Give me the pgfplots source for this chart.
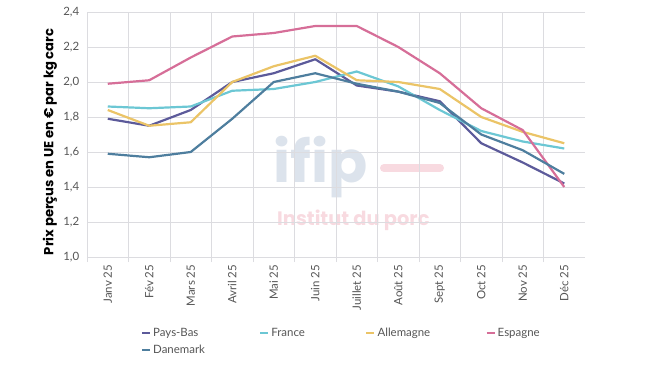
\documentclass[border=0pt]{standalone}
\usepackage{pgfplots}
\pgfplotsset{compat=1.18}
\usepackage{fontspec}
\setmainfont{Lato}
\newfontfamily\pop{Poppins}
\definecolor{cPB}{HTML}{5C5A9A}
\definecolor{cFR}{HTML}{6CC7D4}
\definecolor{cAL}{HTML}{EBC467}
\definecolor{cES}{HTML}{D66E98}
\definecolor{cDK}{HTML}{4E7E9E}
\definecolor{gridc}{HTML}{DCDCE0}
\definecolor{tickc}{HTML}{555555}
\definecolor{wmblue}{HTML}{DCE3EC}
\definecolor{wmpink}{HTML}{F8DAE0}
\begin{document}
\begin{tikzpicture}[x=1bp,y=1bp]
\path[use as bounding box] (0,0) rectangle (650,366);
% watermark
\node[anchor=base west, inner sep=0, font=\pop\bfseries\fontsize{58}{58}\selectfont, text=wmblue] at (273,184) {ifip};
\draw[line width=8bp, line cap=round, color=wmpink] (384,198) -- (440,198);
\node[anchor=base west, inner sep=0, font=\pop\bfseries\fontsize{19.5}{20}\selectfont, text=wmpink] at (277,141) {Institut du porc};
\begin{axis}[
  at={(87bp,109bp)}, anchor=south west,
  scale only axis, width=498bp, height=245bp,
  xmin=-0.5, xmax=11.5, ymin=1.0, ymax=2.4,
  xtick={0,...,11},
  xticklabels={Janv 25,Fév 25,Mars 25,Avril 25,Mai 25,Juin 25,Juillet 25,Août 25,Sept 25,Oct 25,Nov 25,Déc 25},
  minor xtick={-0.5,0.5,...,10.5},
  ytick={1.0,1.2,...,2.41},
  axis line style={draw=none},
  major x tick style={draw=none},
  minor x tick style={draw=gridc, line width=0.6bp},
  ytick style={draw=none},
  tickpos=left, tick align=outside, minor tick length=5bp,
  xmajorgrids=false, xminorgrids=true, ymajorgrids=true,
  grid style={draw=gridc, line width=0.6bp},
  minor grid style={draw=gridc, line width=0.6bp},
  x tick label style={rotate=90, anchor=east, font=\fontsize{11.5}{12}\selectfont, text=tickc},
  y tick label style={font=\fontsize{11.5}{12}\selectfont, text=tickc},
  /pgf/number format/.cd, use comma, fixed, fixed zerofill, precision=1, assume math mode=true,
  /pgfplots/.cd,
  ylabel={\pop\bfseries Prix perçus en UE en € par kg carc},
  ylabel style={font=\fontsize{13.2}{14}\selectfont, at={(axis description cs:0,0.47)}, anchor=center, yshift=37bp},
  legend columns=4,
  legend style={at={(axis description cs:0.108,-0.28)}, anchor=north west, draw=none, fill=none,
    font=\fontsize{11.5}{12}\selectfont, text=tickc, row sep=3bp, inner sep=0pt,
    /tikz/every even column/.append style={column sep=0pt}},
  legend cell align=left,
  legend image code/.code={\draw[#1, line width=2.2bp] (0bp,0bp) -- (8bp,0bp);},
  every axis plot/.append style={line width=2.2bp, line join=round},
]
\addplot[cPB] coordinates {(0,1.79)(1,1.75)(2,1.84)(3,2.00)(4,2.05)(5,2.13)(6,1.98)(7,1.945)(8,1.89)(9,1.65)(10,1.54)(11,1.42)};
\addlegendentry{\makebox[104bp][l]{Pays-Bas}}
\addplot[cFR] coordinates {(0,1.86)(1,1.85)(2,1.86)(3,1.95)(4,1.96)(5,2.00)(6,2.06)(7,1.975)(8,1.84)(9,1.72)(10,1.66)(11,1.62)};
\addlegendentry{\makebox[92bp][l]{France}}
\addplot[cAL] coordinates {(0,1.84)(1,1.75)(2,1.77)(3,2.00)(4,2.09)(5,2.15)(6,2.01)(7,2.00)(8,1.96)(9,1.80)(10,1.715)(11,1.65)};
\addlegendentry{\makebox[106bp][l]{Allemagne}}
\addplot[cES] coordinates {(0,1.99)(1,2.01)(2,2.14)(3,2.26)(4,2.28)(5,2.32)(6,2.32)(7,2.20)(8,2.05)(9,1.85)(10,1.725)(11,1.40)};
\addlegendentry{Espagne}
\addplot[cDK] coordinates {(0,1.59)(1,1.57)(2,1.60)(3,1.79)(4,2.00)(5,2.05)(6,1.99)(7,1.945)(8,1.88)(9,1.70)(10,1.61)(11,1.475)};
\addlegendentry{Danemark}
\end{axis}
\end{tikzpicture}
\end{document}
